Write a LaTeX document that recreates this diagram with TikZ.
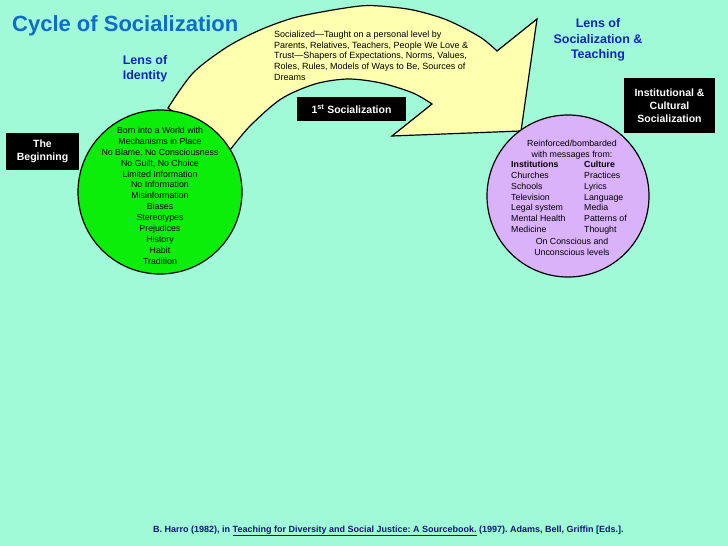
\documentclass[tikz,border=0pt]{standalone}
\usepackage{fontspec}
\setmainfont{Liberation Sans}
\definecolor{bg}{RGB}{160,250,216}
\definecolor{arrowyellow}{RGB}{255,255,176}
\definecolor{identgreen}{RGB}{10,238,10}
\definecolor{lavender}{RGB}{218,178,250}
\definecolor{titleblue}{RGB}{16,108,200}
\definecolor{lensblue}{RGB}{16,36,190}
\definecolor{footnavy}{RGB}{20,20,120}
\tikzset{
  blackbox/.style={fill=black, text=white, align=center, inner sep=0pt,
    font=\bfseries\fontsize{10.5}{13}\selectfont},
  lens/.style={text=lensblue, align=center, inner sep=0pt,
    font=\bfseries\fontsize{12.5}{15.5}\selectfont},
  smalltext/.style={inner sep=0pt, font=\fontsize{8.8}{10.9}\selectfont},
  arrowtext/.style={inner sep=0pt, align=left, font=\fontsize{9}{10.7}\selectfont},
  outline/.style={draw=black, line width=1.2pt},
}
\frenchspacing
\begin{document}
\begin{tikzpicture}[x=1pt,y=-1pt]
\fill[bg] (0,0) rectangle (728,546);
\useasboundingbox (0,0) rectangle (728,546);

% curved arrow
\filldraw[outline, fill=arrowyellow, line join=miter]
  plot[smooth] coordinates {(168,108) (193,73) (227,47) (260,30) (293,18) (327,11) (360,6) (380,6) (413,10) (447,20) (480,37) (497,51)}
  -- (537,19) -- (521,131) -- (392,136) -- (432,104)
  -- plot[smooth] coordinates {(432,104) (413,93) (381,83) (348,79) (315,84) (281,99) (250,126) (230,150)}
  -- cycle;

% circles
\node[circle, outline, fill=identgreen, minimum size=164pt, inner sep=0pt] (identity) at (160,192) {};
\node[circle, outline, fill=lavender, minimum size=162pt, inner sep=0pt] (socialcircle) at (568,196) {};

% title and lens labels
\node[anchor=base west, inner sep=0pt, text=titleblue, font=\bfseries\fontsize{22}{26}\selectfont] (title) at (12,31) {Cycle of Socialization};
\node[lens] (lensid) at (145,69) {Lens of\\Identity};
\node[lens] (lenssoc) at (598,40) {Lens of\\Socialization \&\\Teaching};

% black boxes
\node[blackbox, minimum width=73pt, minimum height=37pt] (begin) at (42.5,151.5) {The\\Beginning};
\node[blackbox, minimum width=91pt, minimum height=55pt] (inst) at (669.5,105.5) {Institutional \&\\Cultural\\Socialization};
\node[blackbox, minimum width=109pt, minimum height=24pt] (first) at (351.5,109) {1\textsuperscript{st} Socialization};

% arrow text
\node[arrowtext, anchor=north west] (arrowtxt) at (274,30.8) {Socialized---Taught on a personal level by\\Parents, Relatives, Teachers, People We Love \&\\Trust---Shapers of Expectations, Norms, Values,\\Roles, Rules, Models of Ways to Be, Sources of\\Dreams};

% green circle text
\node[smalltext, align=center, anchor=north] (idtext) at (160,126.9) {Born into a World with\\Mechanisms in Place\\No Blame, No Consciousness\\No Guilt, No Choice\\Limited Information\\No Information\\Misinformation\\Biases\\Stereotypes\\Prejudices\\History\\Habit\\Tradition};

% purple circle text
\node[smalltext, align=center, anchor=north] (soctop) at (572,139.8) {Reinforced/bombarded\\with messages from:};
\node[smalltext, align=left, anchor=north west] (instcol) at (511,160.8) {\textbf{Institutions}\\Churches\\Schools\\Television\\Legal system\\Mental Health\\Medicine};
\node[smalltext, align=left, anchor=north west] (cultcol) at (584,160.8) {\textbf{Culture}\\Practices\\Lyrics\\Language\\Media\\Patterns of\\Thought};
\node[smalltext, align=center, anchor=north] (socbottom) at (572,237.8) {On Conscious and\\Unconscious levels};

% footer
\node[anchor=west, inner sep=0pt, text=footnavy, font=\bfseries\fontsize{9}{11}\selectfont] (footer) at (153,531) {B. Harro (1982), in \underline{Teaching for Diversity and Social Justice: A Sourcebook.} (1997). Adams, Bell, Griffin [Eds.].};
\end{tikzpicture}
\end{document}
